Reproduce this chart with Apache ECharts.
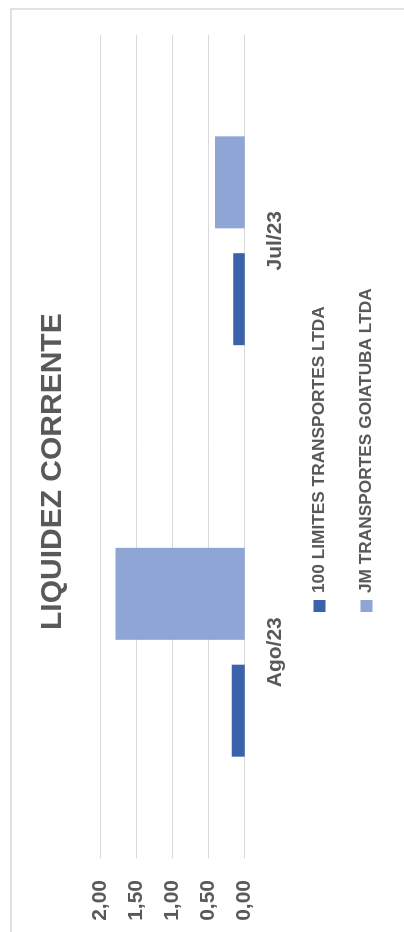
<!DOCTYPE html>
<html>
<head>
<meta charset="utf-8">
<script src="https://cdn.jsdelivr.net/npm/echarts@6/dist/echarts.min.js"></script>
<style>
html,body{margin:0;padding:0;background:#fff;overflow:hidden;width:404px;height:932px;}
#chart{position:absolute;left:0;top:0;width:932px;height:404px;transform-origin:0 0;transform:translateY(932px) rotate(-90deg);}
</style>
</head>
<body>
<div id="chart"></div>
<script>
const categories = ['Ago/23', 'Jul/23'];
const seriesNames = ['100 LIMITES TRANSPORTES LTDA', 'JM TRANSPORTES GOIATUBA LTDA'];
const limitesValues = [0.18, 0.16];
const jmValues = [1.79, 0.41];
const valueTicks = { min: 0, max: 2, interval: 0.5 };

const FONT = "'Liberation Sans', Arial, sans-serif";
const GRAY = '#595959';
const chart = echarts.init(document.getElementById('chart'), null, { renderer: 'canvas' });
chart.setOption({
  animation: false,
  backgroundColor: '#ffffff',
  title: {
    text: 'LIQUIDEZ CORRENTE',
    left: 302,
    top: 38,
    padding: 0,
    textStyle: { fontFamily: FONT, fontWeight: 'bold', fontSize: 30, color: GRAY }
  },
  legend: {
    orient: 'vertical',
    left: 320,
    top: 311,
    itemWidth: 12,
    itemHeight: 12,
    itemGap: 30,
    icon: 'rect',
    padding: 0,
    textStyle: { fontFamily: FONT, fontWeight: 'bold', fontSize: 17.3, color: GRAY, padding: [0, 0, 0, 2] },
    data: seriesNames
  },
  grid: { left: 74, width: 823, top: 100.3, height: 144.4, containLabel: false },
  xAxis: {
    type: 'category',
    data: categories,
    axisLine: { show: true, lineStyle: { color: '#d9d9d9', width: 1 } },
    axisTick: { show: false },
    axisLabel: { margin: 20, fontFamily: FONT, fontWeight: 'bold', fontSize: 21, color: GRAY }
  },
  yAxis: {
    type: 'value',
    min: valueTicks.min,
    max: valueTicks.max,
    interval: valueTicks.interval,
    axisLine: { show: false },
    axisTick: { show: false },
    splitLine: { lineStyle: { color: '#d9d9d9', width: 1 } },
    axisLabel: {
      margin: 22,
      fontFamily: FONT, fontWeight: 'bold', fontSize: 21, color: GRAY,
      formatter: v => v.toFixed(2).replace('.', ',')
    }
  },
  series: [
    { name: seriesNames[0], type: 'bar', data: limitesValues, barWidth: 92, barGap: '27%', itemStyle: { color: '#3B62AB' } },
    { name: seriesNames[1], type: 'bar', data: jmValues, barWidth: 92, barGap: '27%', itemStyle: { color: '#8FA5D5' } }
  ],
  graphic: [
    { type: 'rect', silent: true, shape: { x: -20, y: 11, width: 943, height: 420 }, style: { fill: 'none', stroke: '#d9d9d9', lineWidth: 1.5 } }
  ]
});
</script>
</body>
</html>
